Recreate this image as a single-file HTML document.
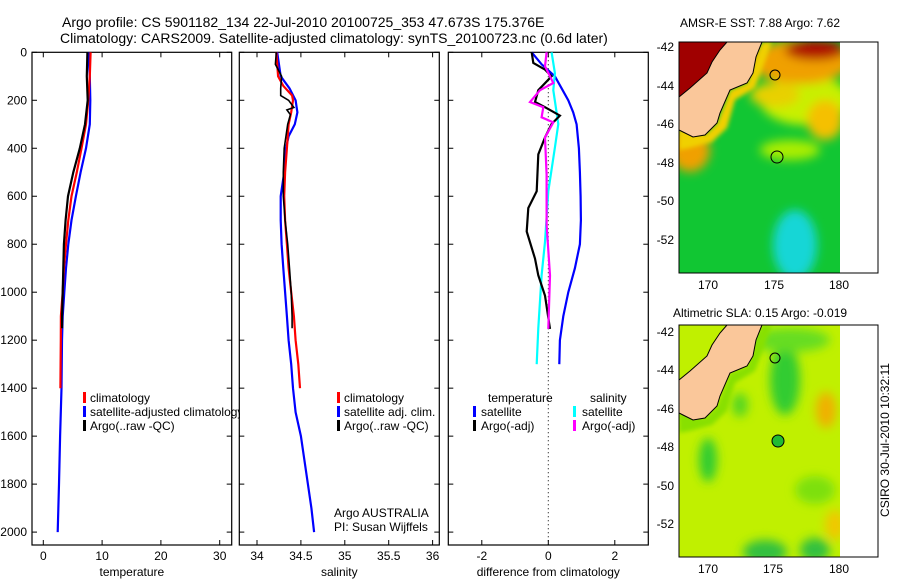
<!DOCTYPE html>
<html><head><meta charset="utf-8">
<style>
html,body{margin:0;padding:0;background:#fff;}
svg{display:block;font-family:"Liberation Sans",sans-serif;}
text{fill:#000;}
</style></head>
<body>
<svg id="fig" width="900" height="580" viewBox="0 0 900 580" xmlns="http://www.w3.org/2000/svg">
<defs>
 <filter id="blur4" x="-20%" y="-20%" width="140%" height="140%"><feGaussianBlur stdDeviation="5"/></filter>
 <filter id="blur2"><feGaussianBlur stdDeviation="2"/></filter>
 <clipPath id="clipMap1"><rect x="679" y="42" width="161" height="231"/></clipPath>
 <clipPath id="clipMap2"><rect x="679" y="325" width="161" height="232"/></clipPath>
 <clipPath id="clipP1"><rect x="32" y="36" width="208" height="510"/></clipPath>
 <clipPath id="clipP2"><rect x="239" y="36" width="200" height="510"/></clipPath>
 <clipPath id="clipP3"><rect x="448" y="36" width="200" height="510"/></clipPath>
</defs>

<text x="62" y="27" font-size="14">Argo profile: CS 5901182_134 22-Jul-2010 20100725_353 47.673S 175.376E</text>
<text x="60" y="43" font-size="14">Climatology: CARS2009. Satellite-adjusted climatology: synTS_20100723.nc (0.6d later)</text>

<!-- maps -->
<g>
 <text x="760" y="27" font-size="12" text-anchor="middle">AMSR-E SST: 7.88 Argo: 7.62</text>
 <g clip-path="url(#clipMap1)">
  <rect x="679" y="42" width="161" height="231" fill="#11c633"/>
  <g filter="url(#blur4)">
   <ellipse cx="805" cy="100" rx="45" ry="25" fill="#c8f000"/>
   <ellipse cx="825" cy="120" rx="18" ry="20" fill="#f5c000"/>
   <ellipse cx="800" cy="62" rx="50" ry="22" fill="#f0a000"/>
   <ellipse cx="815" cy="50" rx="30" ry="10" fill="#b00800"/>
   <ellipse cx="690" cy="150" rx="20" ry="22" fill="#f0a000"/>
   <ellipse cx="795" cy="245" rx="22" ry="35" fill="#19d6d6"/>
   <ellipse cx="790" cy="150" rx="30" ry="10" fill="#aaee00"/>
   <ellipse cx="775" cy="95" rx="25" ry="12" fill="#e8d000"/>
  </g>
  <path d="M679,42 L727,42 L720,50 L712,62 L707,73 L690,88 L679,97 Z" fill="#a00000"/>
  <path d="M762,42 L772,42 L762,70 L755,88 L735,100 L727,128 L712,142 L690,148 L679,150 L679,128 L705,135 L717,123 L730,90 L747,83 Z" fill="#f0d000" filter="url(#blur2)"/>
  <path d="M727,42 L762,42 L756,57 L753,73 L747,83 L730,90 L720,113 L717,123 L705,135 L693,137 L683,132 L679,130 L679,97 L690,88 L707,73 L712,62 L720,50 Z" fill="#fac79a" stroke="#000" stroke-width="1"/>
  <circle cx="775" cy="75" r="5" fill="none" stroke="#000"/>
  <circle cx="777" cy="157" r="6" fill="none" stroke="#000"/>
 </g>
 <rect x="679" y="42" width="199" height="231" fill="none" stroke="#000"/>
 <g font-size="12" text-anchor="end">
  <text x="674" y="51">-42</text><text x="674" y="90">-44</text><text x="674" y="128">-46</text><text x="674" y="167">-48</text><text x="674" y="205">-50</text><text x="674" y="244">-52</text>
 </g>
 <g font-size="12" text-anchor="middle">
  <text x="708" y="289">170</text><text x="774" y="289">175</text><text x="839" y="289">180</text>
 </g>
</g>

<g>
 <text x="760" y="317" font-size="12" text-anchor="middle">Altimetric SLA: 0.15 Argo: -0.019</text>
 <g clip-path="url(#clipMap2)">
  <rect x="679" y="325" width="161" height="232" fill="#c0f000"/>
  <g filter="url(#blur4)">
   <ellipse cx="785" cy="380" rx="15" ry="35" fill="#33cc33"/>
   <ellipse cx="790" cy="340" rx="40" ry="12" fill="#66dd22"/>
   <ellipse cx="708" cy="460" rx="9" ry="22" fill="#33cc33"/>
   <ellipse cx="740" cy="405" rx="8" ry="12" fill="#55d522"/>
   <ellipse cx="826" cy="410" rx="10" ry="18" fill="#f0b000"/>
   <ellipse cx="815" cy="490" rx="20" ry="14" fill="#7de010"/>
   <ellipse cx="765" cy="552" rx="22" ry="12" fill="#33c040"/>
   <ellipse cx="815" cy="550" rx="15" ry="12" fill="#33c040"/>
   <ellipse cx="835" cy="525" rx="10" ry="15" fill="#f0c800"/>
   <ellipse cx="690" cy="400" rx="12" ry="20" fill="#88e000"/>
  </g>
  <path d="M762,325 L772,325 L762,353 L755,371 L735,383 L727,411 L712,425 L690,431 L679,433 L679,411 L705,418 L717,406 L730,373 L747,366 Z" fill="#88e000" filter="url(#blur2)"/>
  <path d="M727,325 L762,325 L756,340 L753,356 L747,366 L730,373 L720,396 L717,406 L705,418 L693,420 L683,415 L679,413 L679,380 L690,371 L707,356 L712,345 L720,333 Z" fill="#fac79a" stroke="#000"/>
  <circle cx="775" cy="358" r="5" fill="none" stroke="#000"/>
  <circle cx="778" cy="441" r="6" fill="#22bb33" stroke="#000"/>
 </g>
 <rect x="679" y="325" width="199" height="232" fill="none" stroke="#000"/>
 <g font-size="12" text-anchor="end">
  <text x="674" y="336">-42</text><text x="674" y="374">-44</text><text x="674" y="413">-46</text><text x="674" y="451">-48</text><text x="674" y="490">-50</text><text x="674" y="528">-52</text>
 </g>
 <g font-size="12" text-anchor="middle">
  <text x="708" y="573">170</text><text x="773" y="573">175</text><text x="839" y="573">180</text>
 </g>
</g>
<text transform="translate(889,440) rotate(-90)" font-size="12" text-anchor="middle">CSIRO 30-Jul-2010 10:32:11</text>

<g id="panels"></g>
</svg>
<script>
// ---- data ----
const tempClimDepth=[0,100,200,300,400,500,600,700,800,900,1000,1100,1200,1300,1400];
const tempClim=[8.05,7.9,7.65,7.26,6.5,5.7,4.8,4.25,3.86,3.5,3.3,3.0,2.98,2.95,2.9];
const tempSatDepth=[0,100,200,300,400,500,600,700,800,900,1000,1100,1200,1400,1600,1800,2000];
const tempSat=[7.66,7.9,8.0,7.9,7.26,6.35,5.55,4.8,4.25,3.86,3.57,3.3,3.18,3.1,2.85,2.67,2.45];
const tempArgoDepth=[0,100,200,300,400,500,600,700,800,900,1000,1100,1150];
const tempArgo=[7.5,7.4,7.55,7.1,6.2,5.1,4.2,3.8,3.5,3.4,3.3,3.2,3.2];

const salClimDepth=[0,50,100,140,180,200,250,300,400,500,600,700,800,900,1000,1100,1200,1300,1400];
const salClim=[34.22,34.23,34.24,34.3,34.4,34.41,34.39,34.36,34.34,34.32,34.31,34.32,34.34,34.36,34.39,34.42,34.44,34.47,34.49];
const salSatDepth=[0,100,150,200,250,300,350,400,500,600,700,800,900,1000,1100,1200,1300,1400,1500,1600,1700,1800,1900,2000];
const salSat=[34.23,34.27,34.37,34.44,34.46,34.43,34.36,34.33,34.31,34.27,34.27,34.28,34.3,34.32,34.34,34.36,34.39,34.41,34.44,34.5,34.54,34.58,34.62,34.65];
const salArgoDepth=[0,50,100,150,180,200,230,240,260,300,400,500,600,700,800,900,1000,1100,1150];
const salArgo=[34.22,34.21,34.28,34.27,34.27,34.36,34.42,34.34,34.38,34.35,34.31,34.3,34.3,34.32,34.35,34.37,34.39,34.4,34.4];

const dTSatDepth=[0,50,100,150,200,250,300,400,500,600,700,800,900,1000,1100,1200,1300];
const dTSat=[-0.5,-0.2,0.2,0.4,0.6,0.75,0.85,0.92,0.95,0.97,0.98,0.95,0.8,0.6,0.45,0.35,0.33];
const dTArgoDepth=[0,44,72,100,158,207,229,264,299,355,425,579,649,747,860,930,1014,1153];
const dTArgo=[-0.5,-0.45,-0.1,0.1,-0.3,-0.4,-0.1,0.35,0.1,-0.1,-0.3,-0.35,-0.6,-0.65,-0.4,-0.3,-0.1,0.05];
const dSArgoDepth=[0,58,128,158,207,229,271,292,355,510,720,930,1153];
const dSArgo=[-0.05,-0.1,0.15,-0.25,-0.55,-0.15,-0.2,0.15,-0.1,-0.05,-0.05,0.05,0.0];
const dSSatDepth=[0,87,158,299,397,579,790,930,1150,1300];
const dSSat=[0.1,0.2,0.15,0.3,0.2,0.0,-0.1,-0.2,-0.3,-0.35];

const depthTicks=[0,200,400,600,800,1000,1200,1400,1600,1800,2000];
const tempTicks=[0,10,20,30];
const salTicks=[34,34.5,35,35.5,36];
const diffTicks=[-2,0,2];

// ---- axes ----
const yD=d=>52.3+d*0.2399;
const xT=v=>43.3+v*5.88;
const xS=v=>257+(v-34)*87.8;
const xDf=v=>548.3+v*33.25;

const NS='http://www.w3.org/2000/svg';
const root=document.getElementById('panels');
function mk(tag,attrs,parent){const e=document.createElementNS(NS,tag);for(const k in attrs)e.setAttribute(k,attrs[k]);(parent||root).appendChild(e);return e;}

function panel(name,x0,x1,xfn,ticks,label,fmt,clip){
  const g=mk('g',{});
  
  
  const top=52.3,bot=545;
  const fr=mk('rect',{x:x0,y:top,width:x1-x0,height:bot-top,fill:'none',stroke:'#000','stroke-width':1.2},g);
  
  
  ticks.forEach(t=>{
    const x=xfn(t);
    mk('line',{x1:x,x2:x,y1:bot,y2:bot-5,stroke:'#000'},g);
    mk('line',{x1:x,x2:x,y1:top,y2:top+5,stroke:'#000'},g);
    const tx=mk('text',{x:x,y:bot+15,'font-size':12,'text-anchor':'middle'},g);
    tx.textContent=fmt(t);
    
    
  });
  depthTicks.forEach(d=>{
    const y=yD(d);
    mk('line',{x1:x0,x2:x0+5,y1:y,y2:y,stroke:'#000'},g);
    mk('line',{x1:x1,x2:x1-5,y1:y,y2:y,stroke:'#000'},g);
  });
  const lb=mk('text',{x:(x0+x1)/2,y:576,'font-size':12,'text-anchor':'middle'},g);
  lb.textContent=label;
  
  
  const lines=mk('g',{'clip-path':'url(#'+clip+')'},g);
  return lines;
}
function series(g,name,xs,ds,xfn,color,w){
  const pts=xs.map((v,i)=>xfn(v).toFixed(1)+','+yD(ds[i]).toFixed(1)).join(' ');
  const p=mk('polyline',{points:pts,fill:'none',stroke:color,'stroke-width':w||2.2,'stroke-linejoin':'miter'},g);
  
  
}
function legend(x,y,color,txt,name,tx){
  if(color){mk('rect',{x:x,y:y-10,width:3,height:11,fill:color});}
  const t=mk('text',{x:tx||x+7,y:y,'font-size':12});
  t.textContent=txt;
  
  
}

depthTicks.forEach(d=>{
  const t=mk('text',{x:27,y:yD(d)+4,'font-size':12,'text-anchor':'end'});
  t.textContent=String(d);
  
  
});

const g1=panel('temperature-panel',32,231.7,xT,tempTicks,'temperature',String,'clipP1');
series(g1,'temp-satellite-line',tempSat,tempSatDepth,xT,'#0000ff');
series(g1,'temp-climatology-line',tempClim,tempClimDepth,xT,'#ff0000');
series(g1,'temp-argo-line',tempArgo,tempArgoDepth,xT,'#000000');

const g2=panel('salinity-panel',239.3,439.3,xS,salTicks,'salinity',String,'clipP2');
series(g2,'sal-satellite-line',salSat,salSatDepth,xS,'#0000ff');
series(g2,'sal-climatology-line',salClim,salClimDepth,xS,'#ff0000');
series(g2,'sal-argo-line',salArgo,salArgoDepth,xS,'#000000',1.6);

const g3=panel('difference-panel',448.3,648.3,xDf,diffTicks,'difference from climatology',String,'clipP3');
mk('line',{x1:xDf(0),x2:xDf(0),y1:52.3,y2:545,stroke:'#000','stroke-dasharray':'1,3'},g3);
series(g3,'dtemp-satellite-line',dTSat,dTSatDepth,xDf,'#0000ff');
series(g3,'dsal-satellite-line',dSSat,dSSatDepth,xDf,'#00ffff');
series(g3,'dtemp-argo-line',dTArgo,dTArgoDepth,xDf,'#000000');
series(g3,'dsal-argo-line',dSArgo,dSArgoDepth,xDf,'#ff00ff');

const lg1=mk('g',{'clip-path':'url(#clipP1)'});


[['#ff0000','climatology',402],['#0000ff','satellite-adjusted climatology',416],['#000000','Argo(..raw -QC)',430]].forEach(a=>{
  mk('rect',{x:83,y:a[2]-10,width:3,height:11,fill:a[0]},lg1);
  const t=mk('text',{x:90,y:a[2],'font-size':12},lg1);t.textContent=a[1];
  
  
});
legend(337,402,'#ff0000','climatology','legend-entry');
legend(337,416,'#0000ff','satellite adj. clim.','legend-entry');
legend(337,430,'#000000','Argo(..raw -QC)','legend-entry');
legend(327,517,null,'Argo AUSTRALIA','credit-line-1');
legend(327,531,null,'PI: Susan Wijffels','credit-line-2');
legend(481,402,null,'temperature','legend-header-temperature');
legend(583,402,null,'salinity','legend-header-salinity');
legend(473,416,'#0000ff','satellite','legend-entry',481);
legend(473,430,'#000000','Argo(-adj)','legend-entry',481);
legend(573,416,'#00ffff','satellite','legend-entry',582);
legend(573,430,'#ff00ff','Argo(-adj)','legend-entry',582);
</script>
</body></html>
